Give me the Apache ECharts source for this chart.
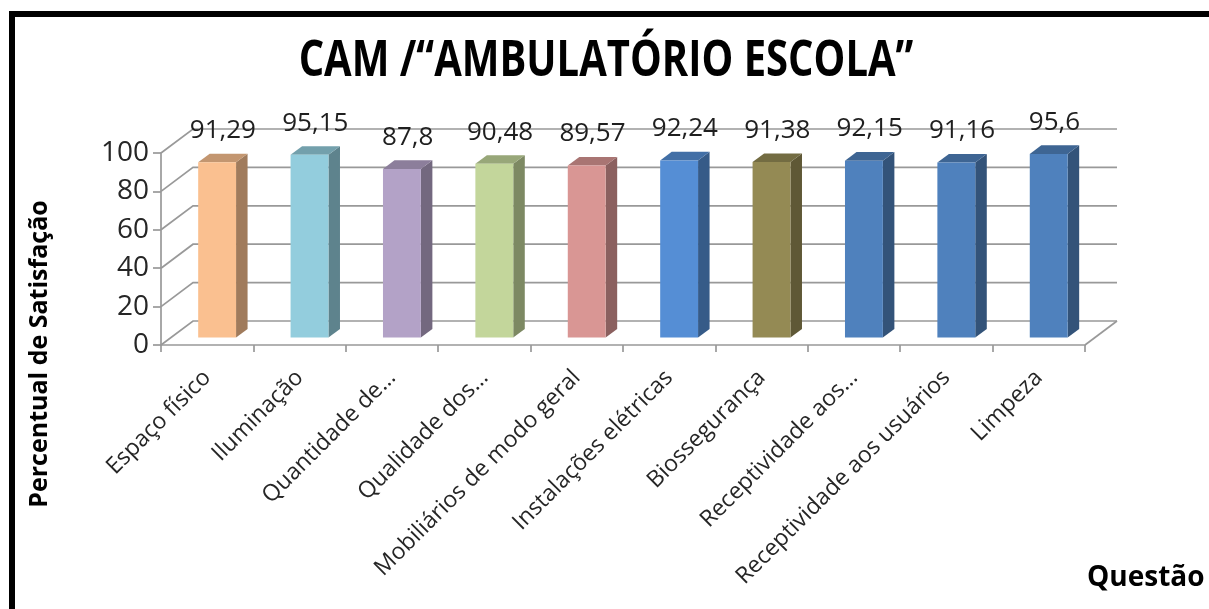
<!DOCTYPE html>
<html>
<head>
<meta charset="utf-8">
<script src="https://cdn.jsdelivr.net/npm/echarts@6/dist/echarts.min.js"></script>
<style>
  html, body { margin: 0; padding: 0; background: #ffffff; }
  #chart { width: 1209px; height: 609px; }
</style>
</head>
<body>
<div id="chart"></div>
<script>
// Satisfaction survey results per question
const categories = [
  'Espaço físico', 'Iluminação', 'Quantidade de…', 'Qualidade dos…',
  'Mobiliários de modo geral', 'Instalações elétricas', 'Biossegurança',
  'Receptividade aos…', 'Receptividade aos usuários', 'Limpeza'
];
const values = [91.29, 95.15, 87.8, 90.48, 89.57, 92.24, 91.38, 92.15, 91.16, 95.6];
const barColors = [
  '#FAC090', '#93CDDD', '#B3A2C7', '#C3D69B', '#D99694',
  '#558ED5', '#948A54', '#4F81BD', '#4F81BD', '#4F81BD'
];
const yTicks = [0, 20, 40, 60, 80, 100];

const FONT = '"Open Sans", "Noto Sans", sans-serif';
const GRID = '#999999';
// pseudo-3D depth of the plot box (pixels of oblique offset)
const DX = 32, DY = 24;
const T_FRONT = 0.31, T_BACK = 0.67;   // bar front/back planes inside the box
const BAR_RATIO = 0.41;

function shade(hex, f) {
  const n = parseInt(hex.slice(1), 16);
  const r = Math.round(((n >> 16) & 255) * f);
  const g = Math.round(((n >> 8) & 255) * f);
  const b = Math.round((n & 255) * f);
  return 'rgb(' + r + ',' + g + ',' + b + ')';
}
const fmt = v => String(v).replace('.', ',');

// back wall, side wall and floor grid lines
function renderWall(params, api) {
  const v = api.value(1);
  const band = api.size([1, 0])[0];
  const pL = api.coord([0, v]);
  const pR = api.coord([categories.length - 1, v]);
  const xl = pL[0] - band / 2, xr = pR[0] + band / 2, y = pL[1];
  const children = [{
    type: 'polyline',
    shape: { points: [[xl, y], [xl + DX, y - DY], [xr + DX, y - DY]] },
    style: { stroke: GRID, lineWidth: 1.7, fill: null }
  }];
  if (v === 0) {
    children.push({
      type: 'line',
      shape: { x1: xr, y1: y, x2: xr + DX, y2: y - DY },
      style: { stroke: GRID, lineWidth: 1.7 }
    });
  }
  return { type: 'group', children: children };
}

// oblique-projected box bars with value labels
function renderBar(params, api) {
  const i = api.value(0);
  const v = api.value(1);
  const top = api.coord([i, v]);
  const base = api.coord([i, 0]);
  const band = api.size([1, 0])[0];
  const w = band * BAR_RATIO;
  const ox = DX * T_FRONT, oy = DY * T_FRONT;
  const dx = DX * (T_BACK - T_FRONT), dy = DY * (T_BACK - T_FRONT);
  const x0 = top[0] - w / 2 + ox, x1 = x0 + w;
  const yt = top[1] - oy, yb = base[1] - oy;
  const c = barColors[i];
  return {
    type: 'group',
    children: [
      { type: 'polygon', shape: { points: [[x1, yt], [x1 + dx, yt - dy], [x1 + dx, yb - dy], [x1, yb]] },
        style: { fill: shade(c, 0.64) } },
      { type: 'polygon', shape: { points: [[x0, yt], [x0 + dx, yt - dy], [x1 + dx, yt - dy], [x1, yt]] },
        style: { fill: shade(c, 0.78) } },
      { type: 'rect', shape: { x: x0, y: yt, width: w, height: yb - yt },
        style: { fill: c } },
      { type: 'text',
        style: { text: fmt(v), x: (x0 + x1) / 2 + dx / 2, y: yt - dy - 23,
                 textAlign: 'center', textVerticalAlign: 'middle',
                 align: 'center', verticalAlign: 'middle',
                 font: '26px ' + FONT, fill: '#1f1f1f' } }
    ]
  };
}

const chart = echarts.init(document.getElementById('chart'), null, { renderer: 'canvas' });
chart.setOption({
  backgroundColor: '#ffffff',
  animation: false,
  grid: { left: 161, right: 124, top: 153, bottom: 264, containLabel: false },
  xAxis: {
    type: 'category',
    data: categories,
    axisLine: { show: true, lineStyle: { color: GRID, width: 1.7 } },
    axisTick: { show: true, length: 7, interval: 0, lineStyle: { color: GRID, width: 1.7 } },
    axisLabel: { interval: 0, rotate: 45, margin: 29, fontSize: 23, fontFamily: FONT, color: '#262626' },
    splitLine: { show: false }
  },
  yAxis: {
    type: 'value',
    min: 0, max: 100, interval: 20,
    axisLine: { show: true, lineStyle: { color: GRID, width: 1.7 } },
    axisTick: { show: true, length: 8, lineStyle: { color: GRID, width: 1.7 } },
    axisLabel: { margin: 12, fontSize: 28, fontFamily: FONT, color: '#262626',
                 customValues: yTicks },
    splitLine: { show: false }
  },
  graphic: [
    { type: 'rect', left: 9, top: 11, silent: true,
      shape: { x: 0, y: 0, width: 1300, height: 700 },
      style: { fill: null, stroke: '#000000', lineWidth: 6 } },
    // chart title, set in a condensed bold face
    { type: 'text', x: 606, y: 62, scaleX: 0.8, scaleY: 1,
      style: { text: 'CAM /“AMBULATÓRIO ESCOLA”', textAlign: 'center', textVerticalAlign: 'middle',
               align: 'center', verticalAlign: 'middle',
               font: 'bold 50px ' + FONT, fill: '#000000' } },
    { type: 'text', x: 40, y: 354, rotation: Math.PI / 2,
      style: { text: 'Percentual de Satisfação', textAlign: 'center', textVerticalAlign: 'middle',
               align: 'center', verticalAlign: 'middle',
               font: 'bold 25px ' + FONT, fill: '#000000' } },
    { type: 'text', x: 1087, y: 578,
      style: { text: 'Questão', textAlign: 'left', textVerticalAlign: 'middle',
               align: 'left', verticalAlign: 'middle',
               font: 'bold 28px ' + FONT, fill: '#000000' } }
  ],
  series: [
    { type: 'custom', name: 'wall', z: 1, silent: true,
      renderItem: renderWall,
      data: yTicks.map(v => [0, v]),
      encode: { x: 0, y: 1 } },
    { type: 'custom', name: 'Percentual', z: 3,
      renderItem: renderBar,
      data: values.map((v, i) => [i, v]),
      encode: { x: 0, y: 1 } }
  ]
});
</script>
</body>
</html>
